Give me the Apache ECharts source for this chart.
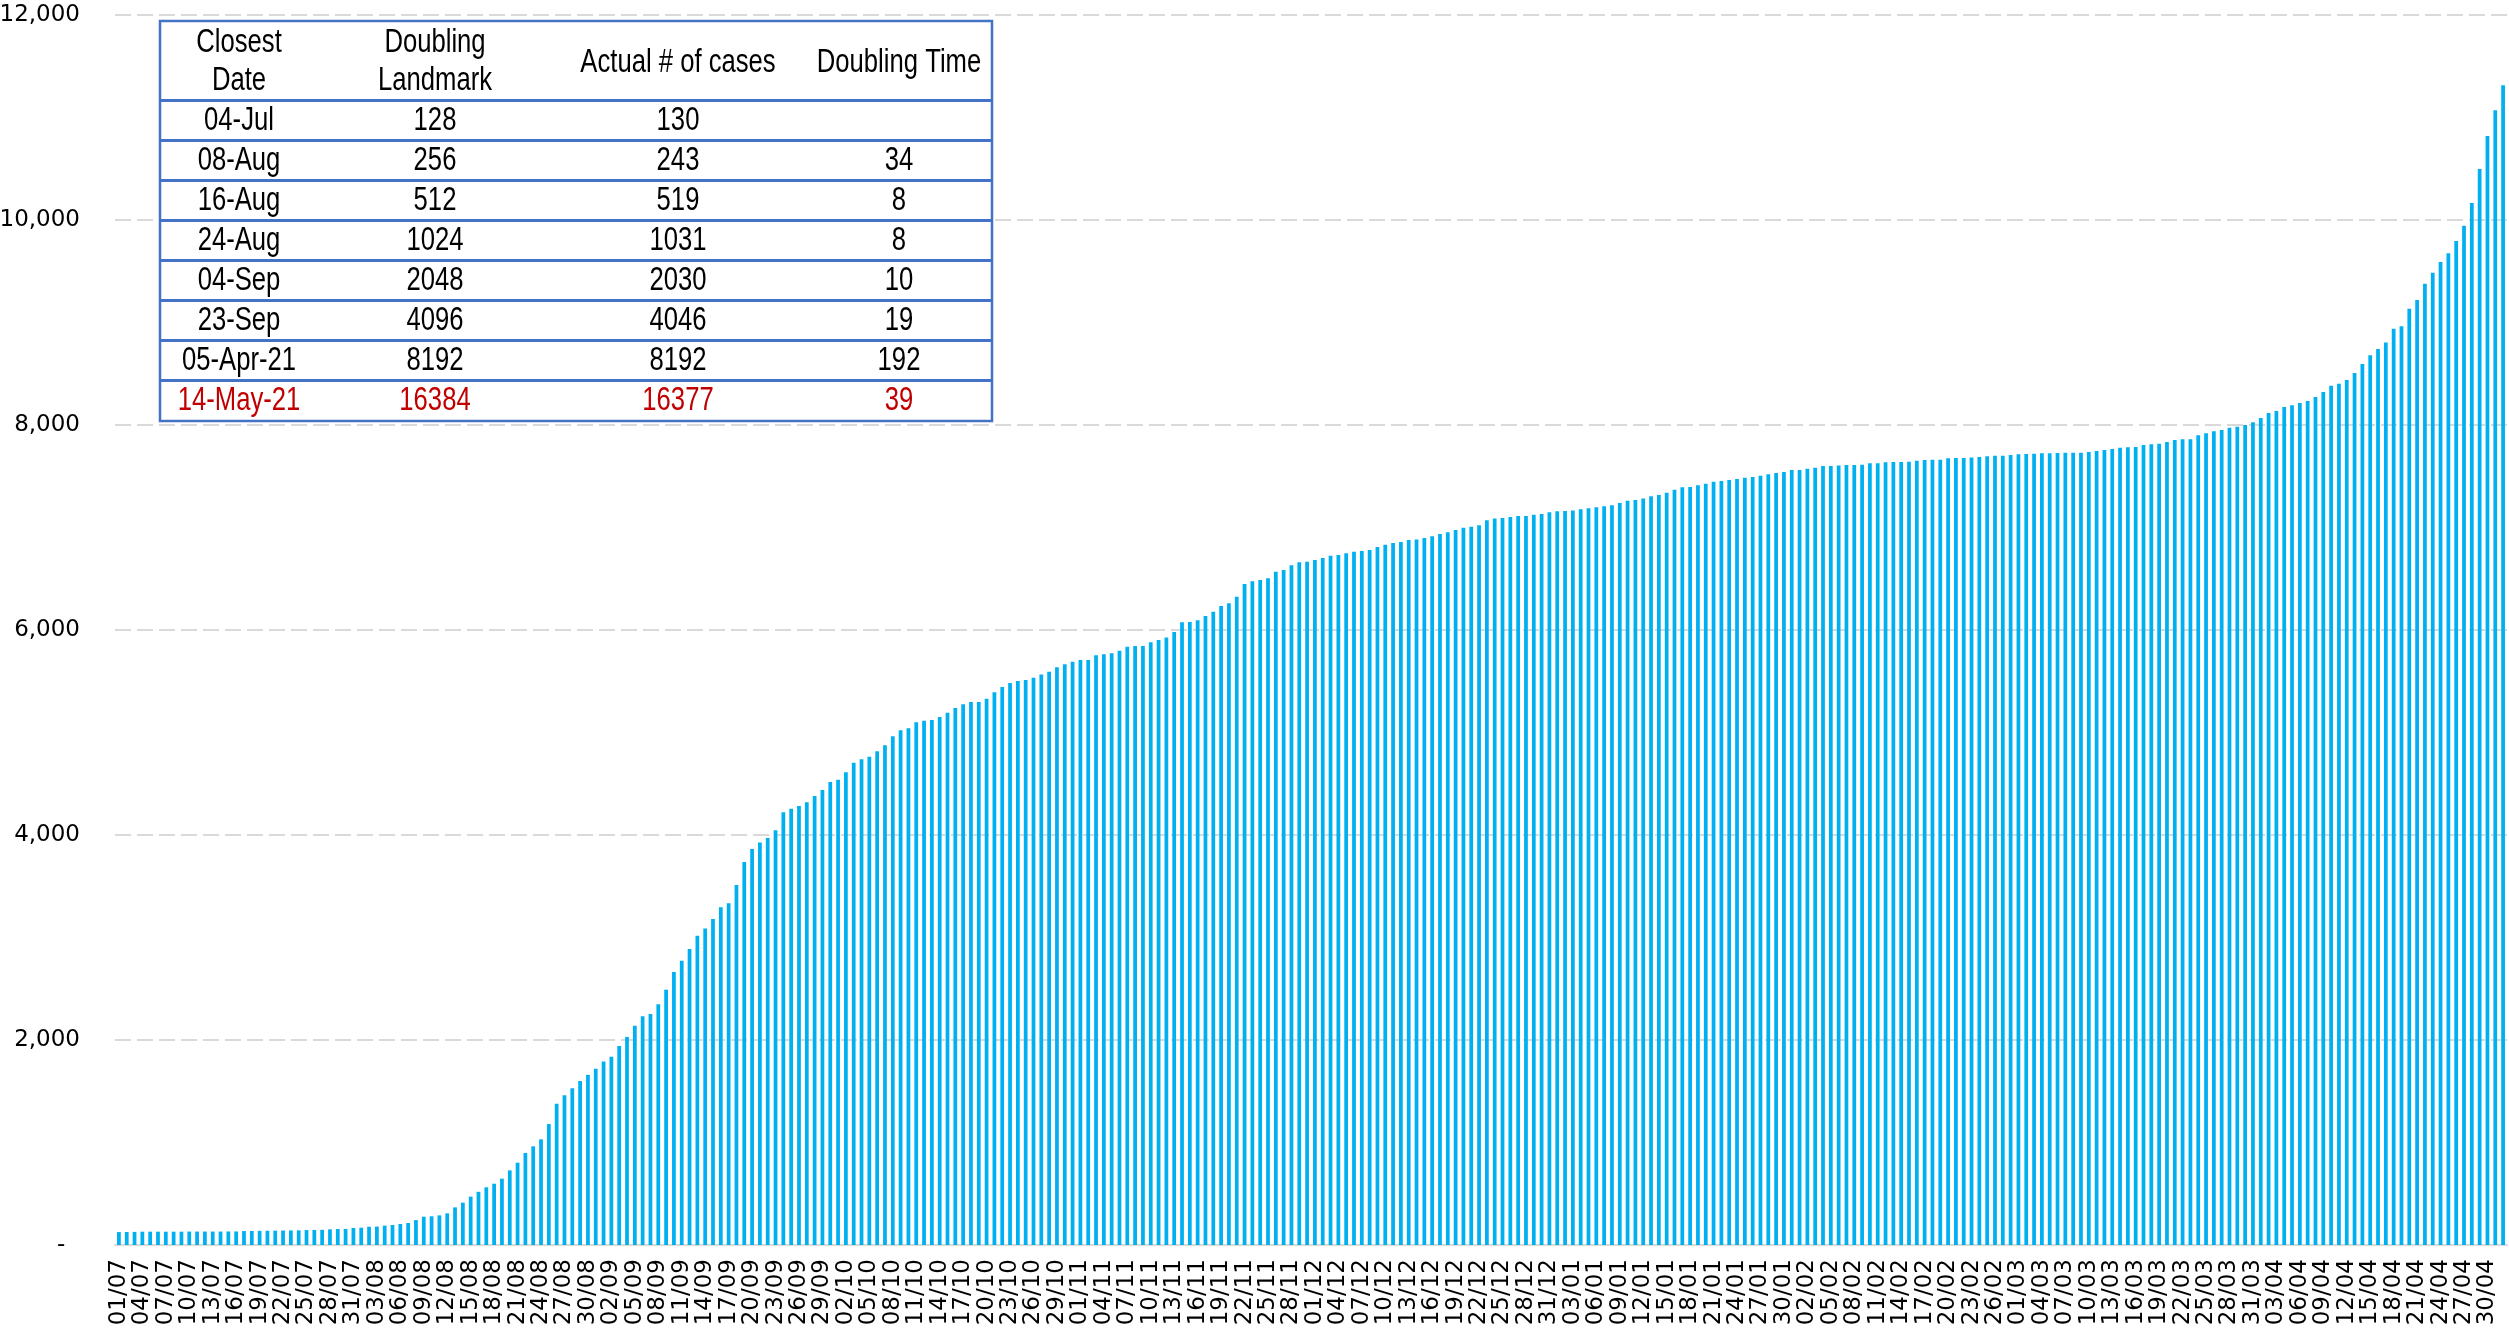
<!DOCTYPE html>
<html>
<head>
<meta charset="utf-8">
<script src="https://cdn.jsdelivr.net/npm/echarts@6/dist/echarts.min.js"></script>
<style>
  html, body { margin: 0; padding: 0; background: #ffffff; }
  #main { width: 2509px; height: 1333px; }
</style>
</head>
<body>
<div id="main"></div>
<script>
// cumulative cases, one bar per day from 01/07/2020 to 02/05/2021
const casesJul = [126, 127, 128, 130, 130, 130, 130, 130, 130, 131, 131, 131, 131, 131, 132, 132, 136, 137, 138, 139, 140, 141, 142, 143, 146, 147, 148, 153, 156, 157, 166];
const casesAug = [169, 178, 180, 189, 195, 205, 215, 243, 276, 280, 289, 309, 367, 413, 472, 519, 563, 598, 647, 728, 803, 898, 963, 1031, 1180, 1379, 1460, 1530, 1600, 1660, 1720];
const casesSep = [1790, 1837, 1941, 2030, 2140, 2231, 2254, 2348, 2491, 2663, 2774, 2888, 3018, 3089, 3180, 3294, 3333, 3512, 3737, 3863, 3928, 3971, 4046, 4221, 4257, 4283, 4319, 4380, 4439, 4517];
const casesOct = [4540, 4611, 4706, 4738, 4764, 4816, 4875, 4963, 5021, 5041, 5099, 5115, 5122, 5151, 5193, 5239, 5275, 5298, 5298, 5330, 5392, 5444, 5483, 5502, 5512, 5535, 5567, 5593, 5636, 5665, 5691];
const casesNov = [5707, 5707, 5753, 5763, 5772, 5798, 5837, 5844, 5844, 5880, 5902, 5928, 5980, 6075, 6078, 6094, 6137, 6179, 6234, 6260, 6325, 6449, 6475, 6488, 6504, 6569, 6585, 6631, 6660, 6667];
const casesDec = [6683, 6702, 6725, 6732, 6748, 6764, 6771, 6780, 6810, 6832, 6849, 6858, 6878, 6884, 6897, 6914, 6936, 6953, 6976, 6998, 7008, 7021, 7070, 7089, 7093, 7102, 7112, 7112, 7125, 7132, 7148];
const casesJan = [7158, 7161, 7167, 7177, 7187, 7197, 7207, 7216, 7239, 7262, 7268, 7284, 7304, 7317, 7340, 7369, 7392, 7395, 7411, 7428, 7447, 7454, 7463, 7473, 7486, 7492, 7506, 7519, 7532, 7541, 7561];
const casesFeb = [7561, 7574, 7584, 7600, 7600, 7606, 7610, 7610, 7613, 7626, 7626, 7636, 7639, 7639, 7642, 7652, 7658, 7662, 7662, 7675, 7678, 7678, 7684, 7688, 7694, 7701, 7701, 7707];
const casesMar = [7714, 7717, 7720, 7724, 7724, 7727, 7730, 7730, 7730, 7737, 7746, 7756, 7766, 7779, 7782, 7785, 7805, 7811, 7818, 7834, 7854, 7860, 7860, 7899, 7919, 7938, 7951, 7974, 7984, 8000, 8026];
const casesApr = [8068, 8117, 8137, 8176, 8192, 8215, 8234, 8273, 8322, 8384, 8403, 8439, 8507, 8595, 8680, 8741, 8806, 8940, 8963, 9135, 9219, 9379, 9486, 9590, 9675, 9795, 9945, 10166, 10498, 10820];
const casesMay = [11070, 11314];

// doubling table
const tableDates = ['04-Jul', '08-Aug', '16-Aug', '24-Aug', '04-Sep', '23-Sep', '05-Apr-21', '14-May-21'];
const tableLandmarks = ['128', '256', '512', '1024', '2048', '4096', '8192', '16384'];
const tableActual = ['130', '243', '519', '1031', '2030', '4046', '8192', '16377'];
const tableDoubling = ['', '34', '8', '8', '10', '19', '192', '39'];

const cases = [].concat(casesJul, casesAug, casesSep, casesOct, casesNov, casesDec,
  casesJan, casesFeb, casesMar, casesApr, casesMay);

// dd/mm labels
const dates = [];
for (let i = 0; i < cases.length; i++) {
  const d = new Date(Date.UTC(2020, 6, 1 + i));
  const dd = String(d.getUTCDate()).padStart(2, '0');
  const mm = String(d.getUTCMonth() + 1).padStart(2, '0');
  dates.push(dd + '/' + mm);
}

// table drawn as graphic elements
const tLeft = 160, tTop = 21, tWidth = 832, headH = 80, rowH = 40;
const colX = [239, 435, 678, 899];
const tFont = '27px "Liberation Sans", Arial, sans-serif';
const tableEls = [];
tableEls.push({
  type: 'rect',
  z: 10,
  shape: { x: tLeft, y: tTop, width: tWidth, height: headH + rowH * tableDates.length },
  style: { fill: '#ffffff', stroke: '#4472C4', lineWidth: 2.5 }
});
for (let k = 0; k < tableDates.length; k++) {
  const y = tTop + headH + rowH * k;
  tableEls.push({
    type: 'line',
    z: 11,
    shape: { x1: tLeft, y1: y - 0.5, x2: tLeft + tWidth, y2: y - 0.5 },
    style: { stroke: '#4472C4', lineWidth: 3 }
  });
}
// narrow, tall lettering like the original table
function cell(text, x, y, color) {
  return {
    type: 'text',
    z: 12,
    x: x,
    y: y,
    scaleX: 0.95,
    scaleY: 1.25,
    style: { text: text, x: 0, y: 0, font: tFont, fill: color, align: 'center', verticalAlign: 'middle' }
  };
}
tableEls.push(cell('Closest', colX[0], 43, '#000000'));
tableEls.push(cell('Date', colX[0], 81, '#000000'));
tableEls.push(cell('Doubling', colX[1], 43, '#000000'));
tableEls.push(cell('Landmark', colX[1], 81, '#000000'));
tableEls.push(cell('Actual # of cases', colX[2], 63, '#000000'));
tableEls.push(cell('Doubling Time', colX[3], 63, '#000000'));
for (let k = 0; k < tableDates.length; k++) {
  const y = tTop + headH + rowH * k + rowH / 2;
  const c = k === tableDates.length - 1 ? '#C00000' : '#000000';
  tableEls.push(cell(tableDates[k], colX[0], y, c));
  tableEls.push(cell(tableLandmarks[k], colX[1], y, c));
  tableEls.push(cell(tableActual[k], colX[2], y, c));
  tableEls.push(cell(tableDoubling[k], colX[3], y, c));
}

const chart = echarts.init(document.getElementById('main'));
chart.setOption({
  animation: false,
  backgroundColor: '#ffffff',
  grid: { left: 115, right: 2, top: 15, bottom: 88, outerBoundsMode: 'none' },
  xAxis: {
    type: 'category',
    data: dates,
    boundaryGap: true,
    axisLine: { lineStyle: { color: '#d9d9d9', width: 2 } },
    axisTick: { interval: 2, length: 8, lineStyle: { color: '#d9d9d9', width: 2 } },
    axisLabel: {
      interval: 2,
      rotate: 90,
      margin: 14,
      fontSize: 23,
      fontFamily: 'DejaVu Sans',
      color: '#000000'
    }
  },
  yAxis: {
    type: 'value',
    min: 0,
    max: 12000,
    interval: 2000,
    axisLine: { show: false },
    axisTick: { show: false },
    splitLine: { lineStyle: { color: '#d9d9d9', width: 2, type: [16, 6] } },
    axisLabel: {
      margin: 35,
      fontSize: 23,
      fontFamily: 'DejaVu Sans',
      color: '#000000',
      formatter: function (v) {
        return v === 0 ? '-  ' : v.toLocaleString('en-US');
      }
    }
  },
  series: [{
    type: 'bar',
    data: cases,
    barCategoryGap: '52%',
    itemStyle: { color: '#00B0F0' }
  }],
  graphic: tableEls
});
</script>
</body>
</html>
